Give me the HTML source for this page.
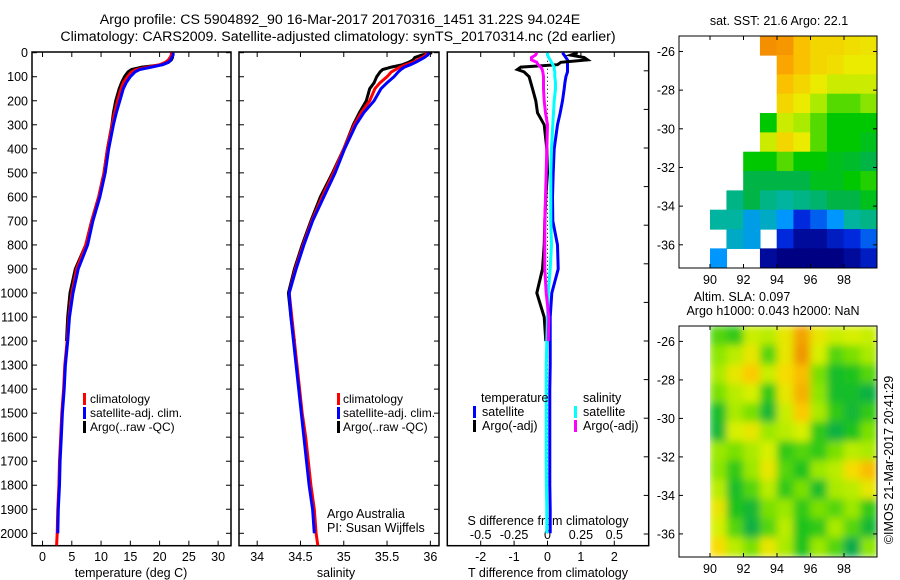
<!DOCTYPE html>
<html><head><meta charset="utf-8">
<style>
body{margin:0;background:#fff;}
svg{display:block;font-family:"Liberation Sans",sans-serif;font-size:12.5px;}
</style></head>
<body>
<svg id="fig" width="900" height="580" viewBox="0 0 900 580">
<text x="340" y="24" text-anchor="middle" font-size="14.2">Argo profile: CS 5904892_90 16-Mar-2017 20170316_1451 31.22S 94.024E</text>
<text x="338" y="41" text-anchor="middle" font-size="14.2">Climatology: CARS2009. Satellite-adjusted climatology: synTS_20170314.nc (2d earlier)</text>
</svg>
<script>
const depths=[0,10,20,30,40,50,60,70,80,100,125,150,200,250,300,400,500,600,700,800,900,1000,1100,1200,1300,1400,1500,1600,1700,1800,1900,2000,2050];
const tClim=[22.0,22.0,21.8,21.5,21.0,20.0,18.0,16.0,15.2,14.5,13.8,13.4,12.8,12.3,11.9,11.1,10.5,9.6,8.4,7.4,5.8,5.0,4.5,4.2,3.8,3.6,3.3,3.1,2.9,2.8,2.6,2.5,2.4];
const tSat=[22.3,22.3,22.1,21.9,21.5,20.5,18.6,16.6,15.8,15.0,14.3,13.8,13.2,12.6,12.1,11.3,10.7,9.8,8.6,7.7,6.1,5.2,4.6,4.3,3.9,3.7,3.4,3.2,3.0,2.9,2.7,2.6,NaN];
const tArgo=[22.2,22.2,22.2,22.0,21.5,20.5,17.0,15.2,14.6,14.0,13.5,13.1,12.5,12.1,11.85,11.1,10.5,9.6,8.4,7.4,5.6,4.7,4.3,4.1,NaN,NaN,NaN,NaN,NaN,NaN,NaN,NaN,NaN];
const sClim=[35.95,35.95,35.9,35.85,35.8,35.72,35.65,35.6,35.55,35.5,35.42,35.36,35.30,35.2,35.12,35.0,34.88,34.75,34.63,34.53,34.44,34.37,34.4,34.43,34.46,34.49,34.52,34.56,34.59,34.62,34.66,34.68,34.7];
const sSat=[35.98,35.97,35.93,35.88,35.83,35.77,35.7,35.66,35.63,35.58,35.5,35.43,35.35,35.23,35.14,35.01,34.9,34.77,34.64,34.54,34.45,34.37,34.39,34.42,34.45,34.48,34.51,34.54,34.57,34.6,34.64,34.66,NaN];
const sArgo=[36.02,35.9,35.82,35.8,35.75,35.68,35.55,35.45,35.42,35.38,35.35,35.3,35.26,35.18,35.11,35.0,34.87,34.73,34.62,34.52,34.43,34.36,34.39,34.43,NaN,NaN,NaN,NaN,NaN,NaN,NaN,NaN,NaN];
const dTSat=[0.45,0.5,0.55,0.6,0.6,0.6,0.6,0.6,0.6,0.55,0.52,0.5,0.45,0.38,0.3,0.2,0.17,0.15,0.16,0.3,0.32,0.13,0.08,0.08,0.08,0.07,0.07,0.07,0.07,0.07,0.08,0.08,NaN];
const dTArgo=[0.9,0.7,1.1,1.2,0.4,0.3,-0.8,-0.9,-0.7,-0.55,-0.5,-0.45,-0.35,-0.3,-0.1,-0.02,0.0,-0.05,-0.08,-0.1,-0.15,-0.32,-0.1,-0.05,NaN,NaN,NaN,NaN,NaN,NaN,NaN,NaN,NaN];
const dSSat=[0.0,0.0,0.01,0.02,0.03,0.04,0.05,0.05,0.055,0.055,0.06,0.06,0.05,0.045,0.04,0.03,0.025,0.025,0.025,0.03,0.02,0.005,0.0,-0.005,-0.01,-0.01,-0.01,-0.01,-0.01,-0.008,-0.005,-0.005,NaN];
const dSArgo=[-0.08,-0.09,-0.12,-0.12,-0.08,-0.07,-0.05,-0.04,-0.035,-0.03,-0.03,-0.03,-0.025,-0.015,0.0,-0.005,-0.01,-0.015,-0.02,-0.02,-0.02,-0.01,0.01,0.005,NaN,NaN,NaN,NaN,NaN,NaN,NaN,NaN,NaN];
const depthTicks=[0,100,200,300,400,500,600,700,800,900,1000,1100,1200,1300,1400,1500,1600,1700,1800,1900,2000];
const tTicks=[0,5,10,15,20,25,30];
const sTicks=[34,34.5,35,35.5,36];
const dTTicks=[-2,-1,0,1,2];
const dSTicks=[-0.5,-0.25,0,0.25,0.5];
const sstLats=[-25.2,-26.2,-27.2,-28.2,-29.2,-30.2,-31.2,-32.2,-33.2,-34.2,-35.2,-36.2];
const mapLons=[90,91,92,93,94,95,96,97,98,99];
const N=NaN;
const sstGrid=[
[N,N,N,23.8,23.7,23,22.5,22.5,22.3,22.2],
[N,N,N,N,23.5,23,22.5,22.3,22,22],
[N,N,N,N,23,22.5,22,21.5,21.5,21.5],
[N,N,N,N,22.5,22,21,20.5,20.5,20.8],
[N,N,N,20,21.5,21,20.5,20,20,20],
[N,N,N,21.5,22.5,22,20.5,20,20,19.8],
[N,N,20,20,20.5,20,20,19.8,19.7,19.5],
[N,N,19.5,19.5,19.5,19.5,19.8,19.8,20,20.2],
[N,19,19.5,19,18.8,19,19.2,19.5,19.5,19.8],
[18.8,18.8,18.2,18.5,18,17,17.5,18,18.8,19],
[N,18.5,18.2,N,17,16.5,16.5,16.8,17,17.5],
[18,N,N,16.5,16.2,16.3,16.2,16.3,16.5,16.8]];
const slaGrid=[
[0.0,-0.02,0.07,0.06,0.1,0.17,0.1,0.07,0.08,0.07],
[0.03,0.06,0.1,0.0,0.1,0.18,0.08,0.0,0.02,0.05],
[0.05,0.1,0.14,0.07,0.12,0.15,0.02,-0.04,-0.03,0.0],
[0.02,0.06,0.08,-0.02,0.1,0.16,0.03,-0.04,-0.04,-0.06],
[-0.04,0.05,0.02,-0.05,0.07,0.14,0.05,-0.02,-0.05,-0.02],
[-0.05,0.08,0.1,0.04,0.06,0.08,-0.02,-0.06,-0.03,0.02],
[0.04,0.02,0.05,0.08,-0.02,0.0,-0.02,0.02,0.06,0.05],
[0.03,-0.02,0.04,0.1,0.0,-0.03,0.04,0.06,0.12,0.15],
[0.06,-0.04,0.0,0.06,-0.02,0.02,-0.04,0.05,0.06,0.1],
[0.1,-0.03,-0.05,0.02,0.04,-0.02,0.02,0.0,0.04,-0.02],
[0.08,0.0,-0.06,0.0,0.06,-0.03,-0.02,0.05,0.0,-0.05],
[0.12,0.06,0.02,0.1,0.05,-0.03,0.04,0.0,-0.07,0.03]];
const latTicks=[-26,-28,-30,-32,-34,-36];
const lonTicks=[90,92,94,96,98];

const svg=document.getElementById('fig');
const NS='http://www.w3.org/2000/svg';
function mk(tag,attrs,parent){const e=document.createElementNS(NS,tag);for(const k in attrs)e.setAttribute(k,attrs[k]);(parent||svg).appendChild(e);return e;}
function txt(x,y,s,anchor,parent,size){const t=mk('text',{x:x,y:y,'text-anchor':anchor||'start'},parent);if(size)t.setAttribute('font-size',size);t.textContent=s;return t;}

const yTop=52,yBot=545.7;
const yScale=d=>52.7+d*0.2403;

function panel(name,x0,x1,xmin,xmax){
  const g=mk('g',{});
  
  
  const xs=v=>x0+(v-xmin)/(xmax-xmin)*(x1-x0);
  return {g,xs,x0,x1};
}
function frame(p,leftLabels,leftTicks,rightTicks){
  const r=mk('rect',{x:p.x0,y:yTop,width:p.x1-p.x0,height:yBot-yTop,fill:'none',stroke:'#000','stroke-width':1.5},p.g);
  
  
  depthTicks.forEach(d=>{
    const y=yScale(d);
    if(leftTicks) mk('line',{x1:p.x0,x2:p.x0+5,y1:y,y2:y,stroke:'#000'},p.g);
    if(rightTicks) mk('line',{x1:p.x1-5,x2:p.x1,y1:y,y2:y,stroke:'#000'},p.g);
    if(leftLabels){const t=txt(p.x0-4,y+4.5,String(d),'end',p.g);
      
      }
  });
}
function xAxis(p,ticks,fmt,labelY){
  ticks.forEach(v=>{
    const x=p.xs(v);
    mk('line',{x1:x,x2:x,y1:yBot,y2:yBot-5,stroke:'#000'},p.g);
    mk('line',{x1:x,x2:x,y1:yTop,y2:yTop+5,stroke:'#000'},p.g);
    const t=txt(x,labelY,fmt(v),'middle',p.g);
    
    
  });
}
function line(p,xs,vals,color,w,name){
  let pts=[],segs=[];
  vals.forEach((v,i)=>{if(isNaN(v)){if(pts.length)segs.push(pts);pts=[];}else pts.push(xs(v).toFixed(1)+','+yScale(depths[i]).toFixed(1));});
  if(pts.length)segs.push(pts);
  segs.forEach(s=>{const l=mk('polyline',{points:s.join(' '),fill:'none',stroke:color,'stroke-width':w,'stroke-linejoin':'miter'},p.g);
    
    });
}
function legendBar(g,x,y,color){mk('rect',{x:x,y:y-10,width:3,height:12,fill:color},g);}

// Panel 1
const p1=panel('temperature-panel',32,231,-1.8,32.2);
frame(p1,true,true,true);
xAxis(p1,tTicks,v=>String(v),561);
line(p1,p1.xs,tArgo,'#000',3,'argo-temperature-line');
line(p1,p1.xs,tClim,'#f00',3,'climatology-temperature-line');
line(p1,p1.xs,tSat,'#00f',3,'satellite-temperature-line');
{const t=txt(131,577,'temperature (deg C)','middle',p1.g);}
{const lg=mk('g',{'font-size':'12'},p1.g);
 legendBar(lg,83,403,'#f00');txt(90,403,'climatology','start',lg);
 legendBar(lg,83,417,'#00f');txt(90,417,'satellite-adj. clim.','start',lg);
 legendBar(lg,83,431,'#000');txt(90,431,'Argo(..raw -QC)','start',lg);}

// Panel 2
const p2=panel('salinity-panel',239,439,33.79,36.1);
frame(p2,false,true,true);
xAxis(p2,sTicks,v=>String(v),561);
line(p2,p2.xs,sArgo,'#000',3,'argo-salinity-line');
line(p2,p2.xs,sClim,'#f00',3,'climatology-salinity-line');
line(p2,p2.xs,sSat,'#00f',3,'satellite-salinity-line');
{const t=txt(336,577,'salinity','middle',p2.g);}
{const lg=mk('g',{'font-size':'12'},p2.g);
 legendBar(lg,337,403,'#f00');txt(343,403,'climatology','start',lg);
 legendBar(lg,337,417,'#00f');txt(343,417,'satellite-adj. clim.','start',lg);
 legendBar(lg,337,431,'#000');txt(343,431,'Argo(..raw -QC)','start',lg);}
{const t=txt(327,518,'Argo Australia','start',p2.g);
 const t2=txt(327,532,'PI: Susan Wijffels','start',p2.g);}

// Panel 3
const p3=panel('difference-panel',447.3,648.7,-3.0,3.03);
const sx=v=>p3.xs(v*4);
{const r=mk('rect',{x:p3.x0,y:yTop,width:p3.x1-p3.x0,height:yBot-yTop,fill:'none',stroke:'#000','stroke-width':1.5},p3.g);
 
 for(let y=534;y>yTop+5;y-=38.6) mk('line',{x1:p3.x1-5,x2:p3.x1,y1:y,y2:y,stroke:'#000'},p3.g);}
dTTicks.forEach(v=>{const x=p3.xs(v);mk('line',{x1:x,x2:x,y1:yBot,y2:yBot-5,stroke:'#000'},p3.g);mk('line',{x1:x,x2:x,y1:yTop,y2:yTop+5,stroke:'#000'},p3.g);
 const t=txt(x,561,String(v),'middle',p3.g);});
dSTicks.forEach(v=>{const t=txt(sx(v),539,String(v),'middle',p3.g);});
{const t=txt(548,525,'S difference from climatology','middle',p3.g);
 const t2=txt(548,577,'T difference from climatology','middle',p3.g);}
mk('line',{x1:p3.xs(0),x2:p3.xs(0),y1:yScale(0),y2:yScale(2000),stroke:'#000','stroke-dasharray':'1,3'},p3.g);
line(p3,p3.xs,dTSat,'#00f',3,'satellite-t-diff-line');
line(p3,p3.xs,dTArgo,'#000',3,'argo-t-diff-line');
line(p3,sx,dSSat,'#0ff',3,'satellite-s-diff-line');
line(p3,sx,dSArgo,'#f0f',3,'argo-s-diff-line');
{const lg=mk('g',{'font-size':'12.5'},p3.g);
 txt(481,402,'temperature','start',lg);txt(583,402,'salinity','start',lg);
 legendBar(lg,473,416,'#00f');txt(482,416,'satellite','start',lg);
 legendBar(lg,473,430,'#000');txt(482,430,'Argo(-adj)','start',lg);
 legendBar(lg,574,416,'#0ff');txt(583,416,'satellite','start',lg);
 legendBar(lg,574,430,'#f0f');txt(583,430,'Argo(-adj)','start',lg);}

// Colormaps (stop-based)
function cmap(stops,v){
  if(v<=stops[0][0])return 'rgb('+stops[0][1].join(',')+')';
  for(let i=1;i<stops.length;i++){if(v<=stops[i][0]){const a=stops[i-1],b=stops[i],t=(v-a[0])/(b[0]-a[0]);
    return 'rgb('+a[1].map((c,k)=>Math.round(c+(b[1][k]-c)*t)).join(',')+')';}}
  return 'rgb('+stops[stops.length-1][1].join(',')+')';
}
const sstStops=[[16.3,[0,0,130]],[17,[0,40,220]],[18,[0,150,255]],[18.8,[0,180,160]],[19.5,[0,180,70]],[20,[0,200,0]],[21,[170,235,0]],[22,[235,235,0]],[23.3,[255,180,0]],[24,[240,130,0]]];
const slaStops=[[-0.08,[0,165,90]],[-0.03,[30,195,30]],[0.03,[140,230,0]],[0.08,[215,240,0]],[0.13,[255,215,0]],[0.18,[240,150,0]]];

function map(name,y0,y1,grid,stops,blur){
  const x0=679,x1=877,lonMin=88.15,lonMax=99.97,latMax=-25.2,latMin=-37.2;
  const lx=v=>x0+(v-lonMin)/(lonMax-lonMin)*(x1-x0);
  const ly=v=>y0+(latMax-v)/(latMax-latMin)*(y1-y0);
  const g=mk('g',{});
  
  
  const cid=name+'-clip';
  const cp=mk('clipPath',{id:cid},g);mk('rect',{x:lx(90),y:y0,width:x1-lx(90),height:y1-y0},cp);
  const cells=mk('g',{'clip-path':'url(#'+cid+')'},g);
  if(blur){const f=mk('filter',{id:name+'-blur',x:'0',y:'0',width:'100%',height:'100%'},g);mk('feGaussianBlur',{stdDeviation:4,edgeMode:'duplicate'},f);}
  const inner=mk('g',blur?{filter:'url(#'+name+'-blur)'}:{},cells);
  grid.forEach((row,i)=>row.forEach((v,j)=>{
    if(isNaN(v))return;
    const c=mk('rect',{x:lx(mapLons[j])-0.3,y:ly(sstLats[i])-0.3,width:lx(mapLons[j]+1)-lx(mapLons[j])+0.6,height:ly(sstLats[i]-1)-ly(sstLats[i])+0.6,fill:cmap(stops,v)},inner);
    
    
  }));
  const fr=mk('rect',{x:x0,y:y0,width:x1-x0,height:y1-y0,fill:'none',stroke:'#000','stroke-width':1},g);
  
  latTicks.forEach(v=>{const y=ly(v);mk('line',{x1:x0,x2:x0+4,y1:y,y2:y,stroke:'#000'},g);mk('line',{x1:x1-4,x2:x1,y1:y,y2:y,stroke:'#000'},g);
    const t=txt(x0-4,y+4.5,String(v),'end',g);});
  lonTicks.forEach(v=>{const x=lx(v);mk('line',{x1:x,x2:x,y1:y1,y2:y1-4,stroke:'#000'},g);mk('line',{x1:x,x2:x,y1:y0,y2:y0+4,stroke:'#000'},g);
    const t=txt(x,y1+16,String(v),'middle',g);});
  return g;
}
map('sst-map',36,268,sstGrid,sstStops,false);
map('sla-map',326,557,slaGrid,slaStops,true);
{const t=txt(779,25,'sat. SST: 21.6 Argo: 22.1','middle');
 const t2=txt(742,301,'Altim. SLA: 0.097','middle');
 const t3=txt(773,315,'Argo h1000: 0.043 h2000: NaN','middle');
 const t4=txt(0,0,'©IMOS 21-Mar-2017 20:41:29','middle');t4.setAttribute('transform','translate(893,460) rotate(-90)');
 }
</script>
</body></html>
